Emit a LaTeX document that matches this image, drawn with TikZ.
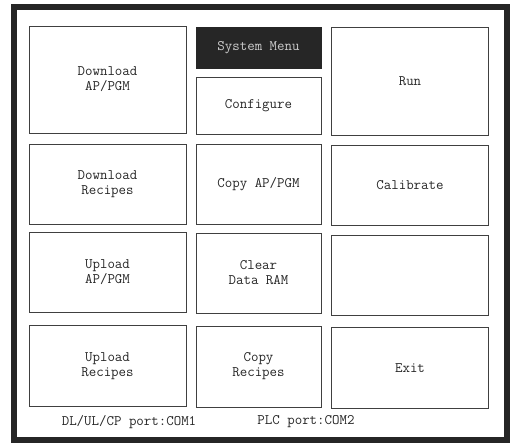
\documentclass[tikz,border=0pt]{standalone}
\begin{document}
\begin{tikzpicture}[x=1pt,y=-1pt,font=\ttfamily\fontsize{14.5}{15}\selectfont,
  menubox/.style={draw=black!75,line width=0.9pt,text=black!85,align=center,inner sep=0pt},
  wide/.style={minimum width=157pt},
  narrow/.style={minimum width=125pt}]

\useasboundingbox (0,0) rectangle (511,443);

\draw[line width=6pt,black!85] (13.5,7) rectangle (506.5,440);

\begin{scope}
\node[menubox,wide,minimum height=107pt] (dlpgm) at (107.5,79.5) {Download\\AP/PGM};
\node[menubox,narrow,minimum height=41pt,fill=black!85,draw=black!85,text=black!20] (sysmenu) at (258.5,47.5) {System Menu};
\node[menubox,narrow,minimum height=57pt] (config) at (258.5,105.5) {Configure};
\node[menubox,wide,minimum height=108pt] (run) at (410,81) {Run};

\node[menubox,wide,minimum height=80pt] (dlrec) at (107.5,184) {Download\\Recipes};
\node[menubox,narrow,minimum height=80pt] (copypgm) at (258.5,184) {Copy AP/PGM};
\node[menubox,wide,minimum height=80pt] (calib) at (410,185) {Calibrate};

\node[menubox,wide,minimum height=80pt] (ulpgm) at (107.5,272.5) {Upload\\AP/PGM};
\node[menubox,narrow,minimum height=80pt] (clearram) at (258.5,273) {Clear\\Data RAM};
\node[menubox,wide,minimum height=80pt] (blank) at (410,275) {};

\node[menubox,wide,minimum height=81pt] (ulrec) at (107.5,366) {Upload\\Recipes};
\node[menubox,narrow,minimum height=81pt] (copyrec) at (258.5,366.5) {Copy\\Recipes};
\node[menubox,wide,minimum height=81pt] (exit) at (410,368) {Exit};
\end{scope}

\node[text=black!85] (port1) at (129,422) {DL/UL/CP port:COM1};
\node[text=black!85] (port2) at (306,422) {PLC port:COM2};

\end{tikzpicture}
\end{document}
